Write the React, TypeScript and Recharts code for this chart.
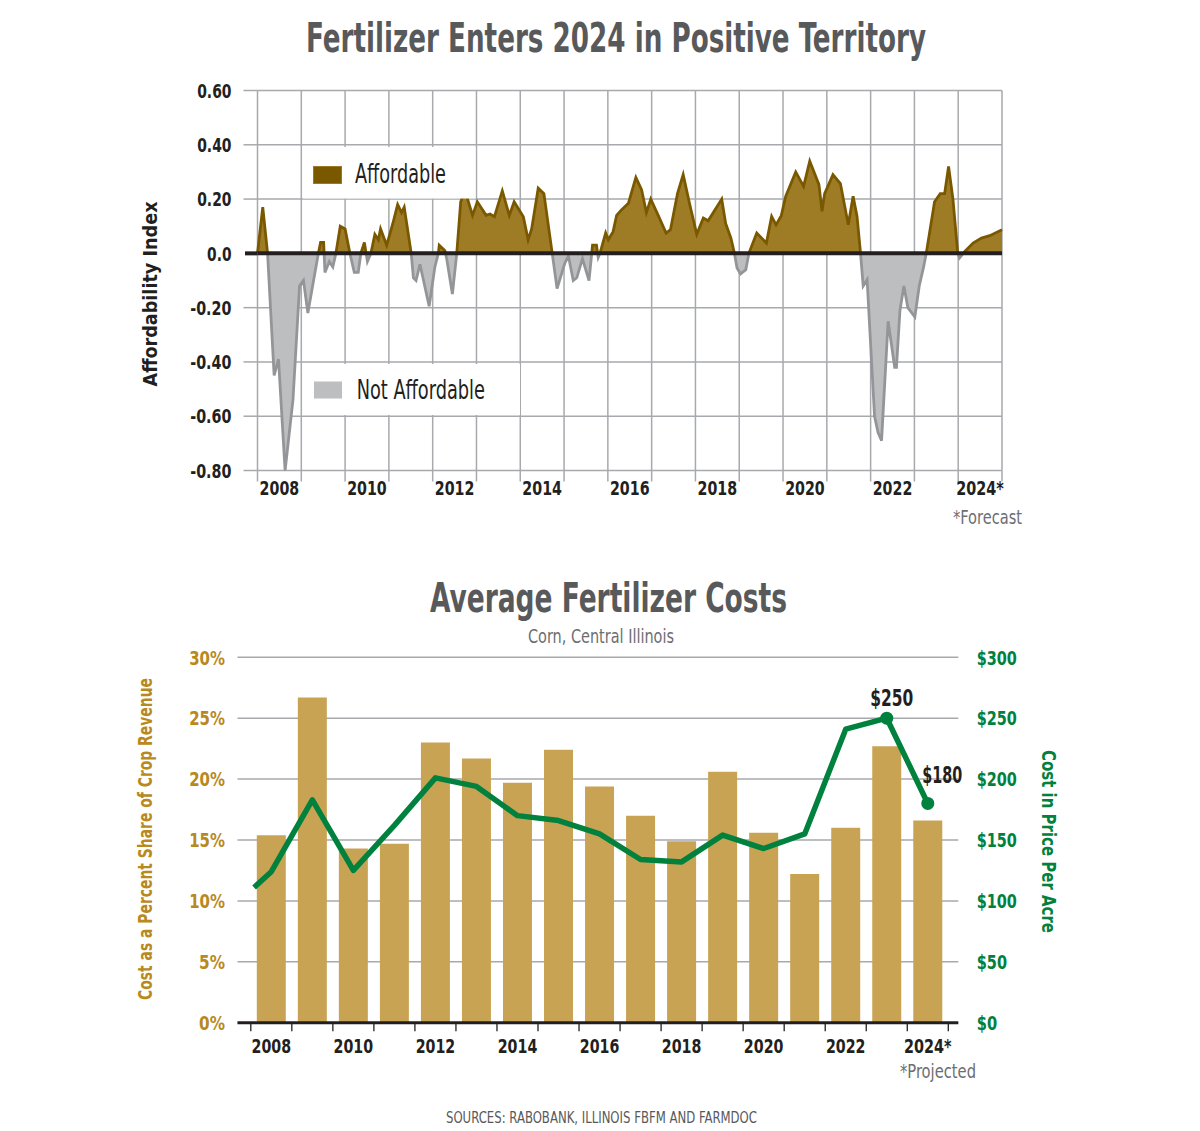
import { ComposedChart, Area, Bar, Line, XAxis, YAxis, CartesianGrid, ReferenceLine } from 'recharts';

const FONT = '"Liberation Sans Narrow", "DejaVu Sans Condensed", "Arial Narrow", Roboto, sans-serif';
const INK = '#231f20';
const TITLE = '#58595b';
const NOTE = '#6d6e71';
const GRID = '#a7a9ac';
const GOLD = '#b8891c';
const GREEN = '#00813d';
const BAR = '#c9a354';

// affordability index, one entry per turning point of the line
const affordYears = [
  2008.0, 2008.12, 2008.23, 2008.38, 2008.48, 2008.63, 2008.81, 2008.96, 2009.05, 2009.15,
  2009.28, 2009.39, 2009.44, 2009.51, 2009.54, 2009.64, 2009.72, 2009.79, 2009.89, 2010.0,
  2010.11, 2010.21, 2010.3, 2010.36, 2010.44, 2010.51, 2010.59, 2010.68, 2010.76, 2010.81,
  2010.95, 2011.09, 2011.2, 2011.29, 2011.35, 2011.51, 2011.56, 2011.62, 2011.71, 2011.92,
  2012.05, 2012.13, 2012.15, 2012.28, 2012.32, 2012.45, 2012.55, 2012.64, 2012.74, 2012.91,
  2013.02, 2013.22, 2013.31, 2013.41, 2013.59, 2013.75, 2013.86, 2014.07, 2014.18, 2014.26,
  2014.41, 2014.54, 2014.73, 2014.84, 2015.02, 2015.1, 2015.21, 2015.29, 2015.42, 2015.57,
  2015.65, 2015.74, 2015.78, 2015.82, 2015.95, 2016.01, 2016.12, 2016.2, 2016.31, 2016.47,
  2016.64, 2016.77, 2016.88, 2016.98, 2017.15, 2017.33, 2017.43, 2017.59, 2017.72, 2017.87,
  2018.03, 2018.18, 2018.29, 2018.6, 2018.69, 2018.81, 2018.89, 2018.95, 2019.03, 2019.15,
  2019.22, 2019.4, 2019.62, 2019.74, 2019.84, 2019.96, 2020.06, 2020.29, 2020.47, 2020.61,
  2020.82, 2020.89, 2020.95, 2021.14, 2021.31, 2021.49, 2021.6, 2021.69, 2021.77, 2021.83,
  2021.92, 2022.09, 2022.17, 2022.25, 2022.4, 2022.55, 2022.59, 2022.67, 2022.76, 2022.85,
  2023.01, 2023.11, 2023.21, 2023.27, 2023.46, 2023.59, 2023.69, 2023.78, 2023.88, 2023.99,
  2024.03, 2024.15, 2024.34, 2024.53, 2024.72, 2025.0,
];
const affordIndex = [
  0, 0.17, 0, -0.45, -0.39, -0.8, -0.54, -0.12, -0.1, -0.22,
  -0.1, 0, 0.04, 0.04, -0.07, -0.03, -0.05, 0, 0.1, 0.09,
  0, -0.07, -0.07, 0, 0.04, -0.03, 0, 0.07, 0.05, 0.09,
  0.03, 0.11, 0.18, 0.15, 0.17, 0, -0.09, -0.1, -0.04, -0.195,
  -0.05, 0, 0.03, 0.01, -0.02, -0.15, 0, 0.19, 0.23, 0.14,
  0.19, 0.14, 0.145, 0.135, 0.23, 0.14, 0.19, 0.135, 0.05, 0.09,
  0.24, 0.22, 0, -0.13, -0.035, -0.01, -0.1, -0.09, -0.02, -0.1,
  0.03, 0.03, -0.015, 0, 0.075, 0.05, 0.08, 0.14, 0.16, 0.185,
  0.28, 0.235, 0.15, 0.2, 0.14, 0.075, 0.087, 0.22, 0.29, 0.18,
  0.07, 0.13, 0.12, 0.2, 0.11, 0.056, 0, -0.054, -0.076, -0.06,
  0, 0.075, 0.038, 0.136, 0.105, 0.139, 0.21, 0.3, 0.247, 0.34,
  0.253, 0.155, 0.22, 0.29, 0.257, 0.105, 0.21, 0.136, 0, -0.12,
  -0.097, -0.6, -0.66, -0.69, -0.25, -0.42, -0.42, -0.21, -0.12, -0.2,
  -0.234, -0.12, -0.05, 0, 0.19, 0.22, 0.22, 0.32, 0.2, 0,
  -0.017, 0.007, 0.038, 0.056, 0.065, 0.087,
];
const affordTicks = [-0.8, -0.6, -0.4, -0.2, 0, 0.2, 0.4, 0.6];
const affordYearTicks = [2008, 2009, 2010, 2011, 2012, 2013, 2014, 2015, 2016, 2017, 2018, 2019, 2020, 2021, 2022, 2023, 2024, 2025];
const affordYearLabels = ['2008', '2010', '2012', '2014', '2016', '2018', '2020', '2022', '2024*'];

// fertilizer costs, corn, central Illinois
const costYears = ['2008', '2009', '2010', '2011', '2012', '2013', '2014', '2015', '2016', '2017', '2018', '2019', '2020', '2021', '2022', '2023', '2024*'];
const costShare = [15.4, 26.7, 14.3, 14.7, 23.0, 21.7, 19.7, 22.4, 19.4, 17.0, 14.9, 20.6, 15.6, 12.2, 16.0, 22.7, 16.6];
const costPerAcre = [124, 183, 125, 162, 201, 194, 170, 166, 155, 134, 132, 154, 143, 155, 241, 250, 180];
const costStart = 111; // the line begins just before the 2008 point
const costLabelled = ['2023', '2024*'];
const shareTicks = [0, 5, 10, 15, 20, 25, 30];
const dollarTicks = [0, 50, 100, 150, 200, 250, 300];
const bandTicks = [0, 1, 2, 3, 4, 5, 6, 7, 8, 9, 10, 11, 12, 13, 14, 15, 16, 17];

// layout
const TOP = { left: 257.5, right: 1002, top: 90.5, bottom: 470.5, h: 520 };
const TOP_HALF = (TOP.right - TOP.left) / 17 / 2;
const BOT = { y: 600, h: 480, left: 237.5, right: 958.3, top: 657.3, bottom: 1022.7, padL: 13.3, padR: 10 };
const BOT_HALF = (BOT.right - BOT.left - BOT.padL - BOT.padR) / 17 / 2;

const affordData = affordYears.map((x, i) => ({ x, v: affordIndex[i] }));
const aMax = Math.max(...affordIndex);
const aMin = Math.min(...affordIndex);
const split = aMax / (aMax - aMin);

const costData = costYears.map((year, i) => ({ x: i + 0.5, year, pct: costShare[i], cost: costPerAcre[i] }));
const lineData = [{ x: 0.08, year: '', pct: 0, cost: costStart }, ...costData];

// the print uses a very narrow face, so tick labels are held to its widths
const CHAR_W: Record<string, number> = { '.': 4.6, '%': 16, '$': 10.5, '*': 8, '-': 7 };
const numWidth = (s: string) => s.split('').reduce((w, c) => w + (CHAR_W[c] ?? 9.9), 0);

function IndexTick(props: any) {
  const { x, y, payload } = props;
  const v = payload.value;
  const zero = Math.abs(v) < 1e-9;
  const s = zero ? '0.0' : v.toFixed(2);
  return (
    <g>
      <line x1={x - (zero ? 12.5 : 14)} x2={x} y1={y} y2={y} stroke={zero ? INK : GRID} strokeWidth={zero ? 4 : 1.5} />
      <text x={x - 26} y={y} dy="0.36em" textAnchor="end" fontFamily={FONT} fontWeight={700} fontSize={20} fill={INK}
        textLength={numWidth(s)} lengthAdjust="spacingAndGlyphs">
        {s}
      </text>
    </g>
  );
}

function YearTick(props: any) {
  const { x, y, payload } = props;
  const i = Math.round(payload.value - 2008);
  const label = i % 2 === 0 ? affordYearLabels[i / 2] : undefined;
  return (
    <g>
      <line x1={x} x2={x} y1={y} y2={y + 11} stroke={GRID} strokeWidth={1.5} />
      {label && (
        <text x={x + TOP_HALF} y={y + 24.5} textAnchor="middle" fontFamily={FONT} fontWeight={700} fontSize={19} fill={INK}
          textLength={numWidth(label)} lengthAdjust="spacingAndGlyphs">
          {label}
        </text>
      )}
    </g>
  );
}

function BandTick(props: any) {
  const { x, y, payload } = props;
  const i = Math.round(payload.value);
  const label = i % 2 === 0 ? costYears[i] : undefined;
  return (
    <g>
      <line x1={x} x2={x} y1={y} y2={y + 8.5} stroke={INK} strokeWidth={1.3} />
      {label && (
        <text x={x + BOT_HALF} y={y + 30.3} textAnchor="middle" fontFamily={FONT} fontWeight={700} fontSize={19} fill={INK}
          textLength={numWidth(label)} lengthAdjust="spacingAndGlyphs">
          {label}
        </text>
      )}
    </g>
  );
}

function ShareTick(props: any) {
  const { x, y, payload } = props;
  const s = `${payload.value}%`;
  return (
    <text x={x - 12.5} y={y} dy="0.36em" textAnchor="end" fontFamily={FONT} fontWeight={700} fontSize={20} fill={GOLD}
      textLength={numWidth(s)} lengthAdjust="spacingAndGlyphs">
      {s}
    </text>
  );
}

function DollarTick(props: any) {
  const { x, y, payload } = props;
  const s = `$${payload.value}`;
  return (
    <text x={x + 18.4} y={y} dy="0.36em" textAnchor="start" fontFamily={FONT} fontWeight={700} fontSize={20} fill={GREEN}
      textLength={numWidth(s)} lengthAdjust="spacingAndGlyphs">
      {s}
    </text>
  );
}

function CostDot(props: any) {
  const { cx, cy, payload, index } = props;
  if (!costLabelled.includes(payload.year)) return <g key={index} />;
  const first = payload.year === costLabelled[0];
  const s = `$${payload.cost}`;
  return (
    <g key={index}>
      <circle cx={cx} cy={cy} r={6.5} fill={GREEN} />
      <text x={cx + (first ? 5 : 14.4)} y={cy - (first ? 12.3 : 20.3)} textAnchor="middle" fontFamily={FONT} fontWeight={700} fontSize={23} fill={INK}
        textLength={first ? 43 : 40} lengthAdjust="spacingAndGlyphs">
        {s}
      </text>
    </g>
  );
}

function Overlay() {
  const t = { fontFamily: FONT, lengthAdjust: 'spacingAndGlyphs' as const };
  return (
    <svg width={1200} height={1131} style={{ position: 'absolute', left: 0, top: 0, pointerEvents: 'none' }}>
      <text {...t} x={616} y={52} textAnchor="middle" fontSize={40} fontWeight={700} fill={TITLE} textLength={620}>
        Fertilizer Enters 2024 in Positive Territory
      </text>

      <rect x={303} y={147} width={172.5} height={51.5} fill="#fff" />
      <rect x={313.5} y={166.5} width={28} height={17} fill="#7a5800" stroke="#9c7a24" strokeWidth={1} />
      <text {...t} x={355} y={183} fontSize={26} fill={INK} textLength={91}>Affordable</text>

      <rect x={303} y={364} width={217} height={51} fill="#fff" />
      <rect x={314} y={381.5} width={28} height={17} fill="#bcbec0" />
      <text {...t} x={356.7} y={399} fontSize={26} fill={INK} textLength={128.3}>Not Affordable</text>

      <text {...t} transform="translate(150,294) rotate(-90)" textAnchor="middle" dominantBaseline="central" fontSize={20} fontWeight={700} fill={INK} textLength={185}>
        Affordability Index
      </text>
      <text {...t} x={953} y={524} fontSize={20} fill={NOTE} textLength={69}>*Forecast</text>

      <text {...t} x={608.5} y={612} textAnchor="middle" fontSize={40} fontWeight={700} fill={TITLE} textLength={357}>
        Average Fertilizer Costs
      </text>
      <text {...t} x={601} y={643} textAnchor="middle" fontSize={20} fill={NOTE} textLength={146}>
        Corn, Central Illinois
      </text>
      <text {...t} transform="translate(145,839) rotate(-90)" textAnchor="middle" dominantBaseline="central" fontSize={20} fontWeight={700} fill={GOLD} textLength={322}>
        Cost as a Percent Share of Crop Revenue
      </text>
      <text {...t} transform="translate(1049,841.5) rotate(90)" textAnchor="middle" dominantBaseline="central" fontSize={20} fontWeight={700} fill={GREEN} textLength={183}>
        Cost in Price Per Acre
      </text>
      <text {...t} x={900} y={1078} fontSize={20} fill={NOTE} textLength={76}>*Projected</text>
      <text {...t} x={601.5} y={1123} textAnchor="middle" fontSize={15} fill={TITLE} textLength={311}>
        SOURCES: RABOBANK, ILLINOIS FBFM AND FARMDOC
      </text>
    </svg>
  );
}

export default function App() {
  return (
    <div style={{ position: 'absolute', left: 0, top: 0, width: 1200, height: 1131, background: '#fff', overflow: 'hidden' }}>
      <div style={{ position: 'absolute', left: 0, top: 0 }}>
        <ComposedChart
          width={1200}
          height={TOP.h}
          data={affordData}
          margin={{ top: TOP.top, right: 1200 - TOP.right, bottom: TOP.h - TOP.bottom - 30, left: TOP.left - 60 }}
        >
          <defs>
            <linearGradient id="affFill" x1="0" y1="0" x2="0" y2="1">
              <stop offset={split} stopColor="#9e7b25" />
              <stop offset={split} stopColor="#bcbec0" />
            </linearGradient>
            <linearGradient id="affStroke" x1="0" y1="0" x2="0" y2="1">
              <stop offset={split} stopColor="#7a5800" />
              <stop offset={split} stopColor="#939598" />
            </linearGradient>
          </defs>
          <CartesianGrid stroke={GRID} strokeWidth={1.5} />
          <XAxis
            dataKey="x"
            type="number"
            domain={[2008, 2025]}
            ticks={affordYearTicks}
            interval={0}
            height={30}
            axisLine={false}
            tickLine={false}
            tickSize={0}
            tickMargin={0}
            tick={<YearTick />}
          />
          <YAxis
            type="number"
            domain={[-0.8, 0.6]}
            ticks={affordTicks}
            interval={0}
            width={60}
            axisLine={false}
            tickLine={false}
            tickSize={0}
            tickMargin={0}
            tick={<IndexTick />}
          />
          <Area
            type="linear"
            dataKey="v"
            baseValue={0}
            stroke="url(#affStroke)"
            strokeWidth={2.8}
            fill="url(#affFill)"
            fillOpacity={1}
            dot={false}
            activeDot={false}
            isAnimationActive={false}
          />
          <ReferenceLine y={0} stroke={INK} strokeWidth={4} />
        </ComposedChart>
      </div>

      <div style={{ position: 'absolute', left: 0, top: BOT.y }}>
        <ComposedChart
          width={1200}
          height={BOT.h}
          data={costData}
          margin={{
            top: BOT.top - BOT.y,
            right: 1200 - BOT.right - 60,
            bottom: BOT.y + BOT.h - BOT.bottom - 30,
            left: BOT.left - 60,
          }}
        >
          <CartesianGrid yAxisId="pct" xAxisId="band" vertical={false} stroke={GRID} strokeWidth={1.5} />
          <XAxis
            xAxisId="band"
            dataKey="x"
            type="number"
            domain={[0, 17]}
            ticks={bandTicks}
            interval={0}
            padding={{ left: BOT.padL, right: BOT.padR }}
            height={30}
            axisLine={{ stroke: INK, strokeWidth: 3 }}
            tickLine={false}
            tickSize={0}
            tickMargin={0}
            tick={<BandTick />}
          />
          <XAxis
            xAxisId="line"
            dataKey="x"
            type="number"
            domain={[0, 17]}
            padding={{ left: BOT.padL, right: BOT.padR }}
            hide
          />
          <YAxis
            yAxisId="pct"
            type="number"
            domain={[0, 30]}
            ticks={shareTicks}
            interval={0}
            width={60}
            axisLine={false}
            tickLine={false}
            tickSize={0}
            tickMargin={0}
            tick={<ShareTick />}
          />
          <YAxis
            yAxisId="cost"
            orientation="right"
            type="number"
            domain={[0, 300]}
            ticks={dollarTicks}
            interval={0}
            width={60}
            axisLine={false}
            tickLine={false}
            tickSize={0}
            tickMargin={0}
            tick={<DollarTick />}
          />
          <Bar xAxisId="band" yAxisId="pct" dataKey="pct" fill={BAR} barSize={29} isAnimationActive={false} />
          <Line
            xAxisId="line"
            yAxisId="cost"
            data={lineData}
            dataKey="cost"
            type="linear"
            stroke={GREEN}
            strokeWidth={5.5}
            strokeLinejoin="round"
            dot={<CostDot />}
            activeDot={false}
            isAnimationActive={false}
          />
        </ComposedChart>
      </div>

      <Overlay />
    </div>
  );
}
